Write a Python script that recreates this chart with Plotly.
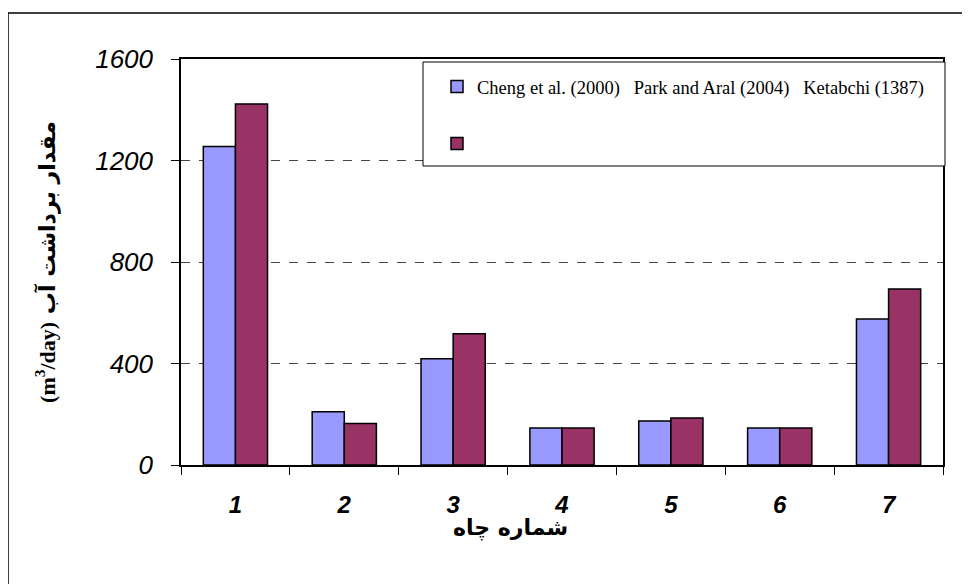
import plotly.graph_objects as go

wells = ["1", "2", "3", "4", "5", "6", "7"]
series1_name = "Cheng et al. (2000)   Park and Aral (2004)   Ketabchi (1387)"
series1 = [1255, 210, 419, 146, 173, 146, 575]
series2_name = " "
series2 = [1423, 164, 517, 146, 185, 146, 694]
y_ticks = [0, 400, 800, 1200, 1600]
x_title = "شماره چاه"
y_title = "<b><span style='font-family:Liberation Serif'>(m<sup>3</sup>/day)</span> مقدار برداشت آب</b>"

# page offset (body margin of the html page)
O = 8
W, H = 970 - O, 584 - O
L, R, T, B = 181 - O, 943 - O, 59 - O, 465 - O

def px(x):
    return (x - O - L) / (R - L)

def py(y):
    return (B - (y - O)) / (B - T)

fig = go.Figure()
fig.add_trace(go.Bar(x=wells, y=series1, name=series1_name, legendgroup="a",
                     marker=dict(color="#9999FF", line=dict(color="black", width=1.5))))
fig.add_trace(go.Bar(x=wells, y=series2, name=series2_name, legendgroup="b",
                     marker=dict(color="#993366", line=dict(color="black", width=1.5))))

fig.update_layout(
    width=W, height=H,
    margin=dict(l=L, r=W - R, t=T, b=H - B),
    paper_bgcolor="white", plot_bgcolor="white",
    barmode="group", bargap=0.41, bargroupgap=0,
    showlegend=True,
    legend=dict(x=px(437), y=py(68), xanchor="left", yanchor="top",
                bgcolor="rgba(0,0,0,0)", borderwidth=0,
                tracegroupgap=30,
                font=dict(family="Liberation Serif", size=18.5, color="black")),
    font=dict(family="Liberation Sans", color="black"),
    annotations=[dict(text="<b>" + x_title + "</b>", xref="paper", yref="paper",
                      x=px(510), y=py(528), xanchor="center", yanchor="middle",
                      showarrow=False,
                      font=dict(family="DejaVu Sans", size=22, color="black"))],
)

fig.update_xaxes(
    type="category", tickson="boundaries", ticks="outside", ticklen=8,
    tickcolor="black", showline=True, linecolor="black", linewidth=1.5,
    mirror=True, showgrid=False, automargin=False,
    tickfont=dict(family="Liberation Sans", size=24, color="black", weight="bold", style="italic"),
    ticklabelstandoff=17,
)
fig.update_yaxes(
    range=[0, 1600], tickvals=y_ticks, ticks="outside", ticklen=8,
    tickcolor="black", showline=True, linecolor="black", linewidth=1.5,
    mirror=True, showgrid=True, gridcolor="#444444", griddash="dash", gridwidth=1,
    zeroline=False, automargin=False,
    tickfont=dict(family="Liberation Sans", size=26, color="black", style="italic"),
    ticklabelstandoff=13,
    title=dict(text=y_title, font=dict(family="DejaVu Sans", size=22, color="black"), standoff=34),
)

# outer frame and legend box
fig.add_shape(type="rect", xref="paper", yref="paper",
              x0=px(8), x1=px(990), y0=py(600), y1=py(13),
              line=dict(color="black", width=1.5), fillcolor="rgba(0,0,0,0)", layer="below")
fig.add_shape(type="rect", xref="paper", yref="paper",
              x0=px(423), x1=px(945), y0=py(166), y1=py(62),
              line=dict(color="black", width=1), fillcolor="white", layer="above")

fig.write_html("out.html")
